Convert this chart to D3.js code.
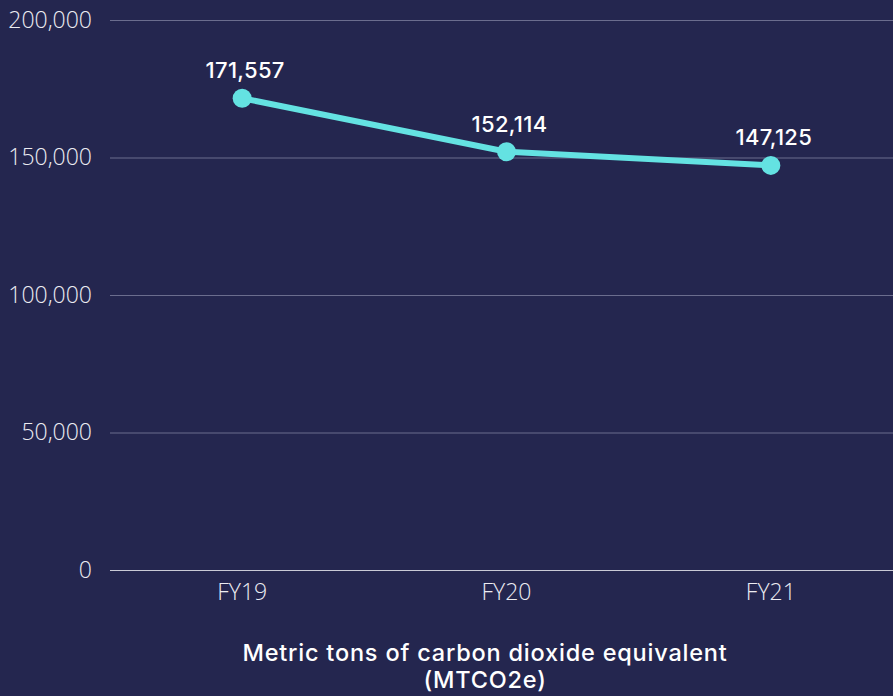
<!DOCTYPE html>
<html><head><meta charset="utf-8">
<script src="https://cdn.jsdelivr.net/npm/d3@7"></script>
<style>
html,body{margin:0;padding:0;background:#24264f;}
svg{display:block;}
</style></head>
<body>
<svg id="chart" width="893" height="696"></svg>
<script>
const categories = ["FY19", "FY20", "FY21"];
const values = [171557, 152114, 147125];
const yTicks = [0, 50000, 100000, 150000, 200000];
const titleLines = ["Metric tons of carbon dioxide equivalent", "(MTCO2e)"];

const W = 893, H = 696;
const m = {left: 110, right: -10, top: 20, bottom: 126};
const svg = d3.select("#chart");
svg.append("rect").attr("width", W).attr("height", H).attr("fill", "#24264f");

const x = d3.scaleBand().domain(categories).range([m.left, W - m.right]);
const y = d3.scaleLinear().domain([0, 200000]).range([H - m.bottom, m.top]);
const fmt = d3.format(",");

// gridlines
const yAxis = d3.axisLeft(y).tickValues(yTicks).tickFormat(fmt).tickSize(-(W - m.left)).tickPadding(18);
const gy = svg.append("g").attr("transform", `translate(${m.left},0)`).call(yAxis);
gy.select(".domain").remove();
gy.selectAll(".tick line").attr("stroke", d => d === 0 ? "#c9cad6" : "#6b6d8e").attr("stroke-width", 1);
gy.selectAll(".tick text").attr("fill", "#ececf2").attr("font-family", "'Open Sans'").attr("font-weight", 300).attr("font-size", 23);

const xAxis = d3.axisBottom(x).tickSize(0).tickPadding(14);
const gx = svg.append("g").attr("transform", `translate(0,${H - m.bottom})`).call(xAxis);
gx.select(".domain").remove();
gx.selectAll(".tick text").attr("fill", "#ececf2").attr("font-family", "'Open Sans'").attr("font-weight", 300).attr("font-size", 23);

const cx = d => x(d) + x.bandwidth() / 2;
const line = d3.line().x((d, i) => cx(categories[i])).y(d => y(d));
svg.append("path").datum(values).attr("d", line).attr("fill", "none")
  .attr("stroke", "#64e2e2").attr("stroke-width", 6);

svg.selectAll("circle.pt").data(values).join("circle").attr("class", "pt")
  .attr("cx", (d, i) => cx(categories[i])).attr("cy", d => y(d)).attr("r", 9.5).attr("fill", "#64e2e2");

svg.selectAll("text.lbl").data(values).join("text").attr("class", "lbl")
  .attr("x", (d, i) => cx(categories[i]) + 3).attr("y", d => y(d) - 20)
  .attr("text-anchor", "middle").attr("fill", "#ffffff")
  .attr("font-family", "Inter").attr("font-weight", 500).attr("font-size", 22)
  .attr("letter-spacing", 0.3)
  .text(d => fmt(d));

svg.selectAll("text.title").data(titleLines).join("text").attr("class", "title")
  .attr("x", 485).attr("y", (d, i) => 661 + i * 27)
  .attr("text-anchor", "middle").attr("fill", "#ffffff")
  .attr("font-family", "Inter").attr("font-weight", 500).attr("font-size", 23.5)
  .attr("letter-spacing", 0.8)
  .text(d => d);
</script>
</body></html>
